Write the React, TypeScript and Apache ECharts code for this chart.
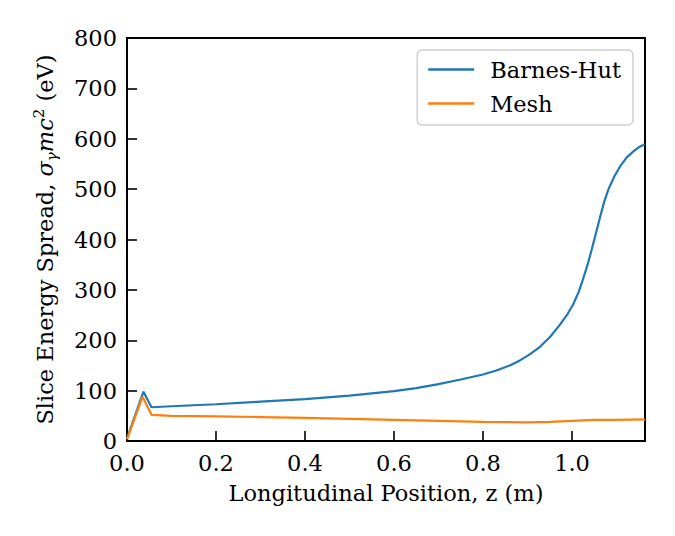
import React, { useEffect, useRef } from "react";
import * as echarts from "echarts";

const bhZ = [0, 0.037, 0.055, 0.1, 0.2, 0.3, 0.4, 0.5, 0.6, 0.65, 0.7, 0.75, 0.8, 0.83, 0.86, 0.883, 0.905, 0.928, 0.95, 0.973, 0.99, 1.003, 1.015, 1.025, 1.035, 1.044, 1.053, 1.063, 1.072, 1.082, 1.095, 1.108, 1.123, 1.138, 1.15, 1.164];
const bhV = [5, 98, 67, 69, 73, 78, 83, 90, 99, 105, 113, 122, 132, 140, 150, 160, 172, 187, 206, 231, 252, 272, 296, 322, 350, 379, 410, 444, 474, 500, 525, 545, 563, 575, 583, 589];
const meshZ = [0, 0.035, 0.055, 0.1, 0.2, 0.3, 0.4, 0.5, 0.6, 0.7, 0.8, 0.9, 0.95, 1.0, 1.05, 1.1, 1.164];
const meshV = [3, 88, 52, 50, 49, 47.5, 46, 44, 42, 40, 38, 37, 38, 40, 42, 42, 43];
const seriesNames = ["Barnes-Hut", "Mesh"];
const xMin = 0;
const xMax = 1.164;
const xStep = 0.2;
const yMin = 0;
const yMax = 800;
const yStep = 100;

const FONT = "DejaVu Serif";
const FS = 22.5;

export default function App() {
  const ref = useRef<HTMLDivElement>(null);
  useEffect(() => {
    const chart = echarts.init(ref.current!, null, { renderer: "svg" });
    const zip = (a: number[], b: number[]) => a.map((v, i) => [v, b[i]]);
    chart.setOption({
      animation: false,
      backgroundColor: "#fff",
      grid: {
        left: 127,
        top: 38,
        right: 30,
        bottom: 95,
        show: true,
        borderColor: "#000",
        borderWidth: 2,
        backgroundColor: "transparent",
      },
      legend: {
        orient: "vertical",
        right: 42,
        top: 50,
        data: seriesNames.map((n) => ({ name: n, icon: "rect" })),
        itemWidth: 46,
        itemHeight: 2.5,
        itemGap: 9,
        padding: [7, 12, 9, 11],
        borderColor: "#d0d0d0",
        borderWidth: 1.5,
        borderRadius: 5,
        backgroundColor: "rgba(255,255,255,0.8)",
        textStyle: { fontFamily: FONT, fontSize: FS, color: "#000", lineHeight: 25, padding: [0, 0, 0, 11] },
      },
      xAxis: {
        type: "value",
        min: xMin,
        max: xMax,
        interval: xStep,
        name: "Longitudinal Position, z (m)",
        nameLocation: "middle",
        nameGap: 40,
        nameTextStyle: { fontFamily: FONT, fontSize: FS, color: "#000" },
        axisLine: { show: false },
        axisTick: { show: true, inside: true, length: 10, lineStyle: { color: "#000", width: 1.6 } },
        axisLabel: {
          fontFamily: FONT,
          fontSize: FS,
          color: "#000",
          margin: 10,
          showMaxLabel: false,
          formatter: (v: number) => v.toFixed(1),
        },
        splitLine: { show: false },
      },
      yAxis: {
        type: "value",
        min: yMin,
        max: yMax,
        interval: yStep,
        name: "{n|Slice Energy Spread, }{i|σ}{s|γ}{i|mc}{p|2}{n| (eV)}",
        nameLocation: "middle",
        nameRotate: 90,
        nameGap: 68,
        nameTextStyle: {
          fontFamily: FONT,
          fontSize: FS,
          color: "#000",
          rich: {
            n: { fontFamily: FONT, fontSize: FS, color: "#000", lineHeight: 28 },
            i: { fontFamily: FONT, fontSize: FS, fontStyle: "italic", color: "#000", lineHeight: 28 },
            s: { fontFamily: FONT, fontSize: 15, fontStyle: "italic", color: "#000", lineHeight: 15, verticalAlign: "bottom" },
            p: { fontFamily: FONT, fontSize: 15, color: "#000", lineHeight: 15, verticalAlign: "top" },
          },
        },
        axisLine: { show: false },
        axisTick: { show: true, inside: true, length: 10, lineStyle: { color: "#000", width: 1.6 } },
        axisLabel: { fontFamily: FONT, fontSize: FS, color: "#000", margin: 10 },
        splitLine: { show: false },
      },
      series: [
        {
          name: seriesNames[0],
          type: "line",
          data: zip(bhZ, bhV),
          showSymbol: false,
          lineStyle: { color: "#1f77b4", width: 2.2 },
          itemStyle: { color: "#1f77b4" },
        },
        {
          name: seriesNames[1],
          type: "line",
          data: zip(meshZ, meshV),
          showSymbol: false,
          lineStyle: { color: "#ff7f0e", width: 2.2 },
          itemStyle: { color: "#ff7f0e" },
        },
      ],
    });
    return () => chart.dispose();
  }, []);
  return (
    <div
      ref={ref}
      style={{ position: "fixed", left: 0, top: 0, width: 675, height: 536, background: "#fff" }}
    />
  );
}
